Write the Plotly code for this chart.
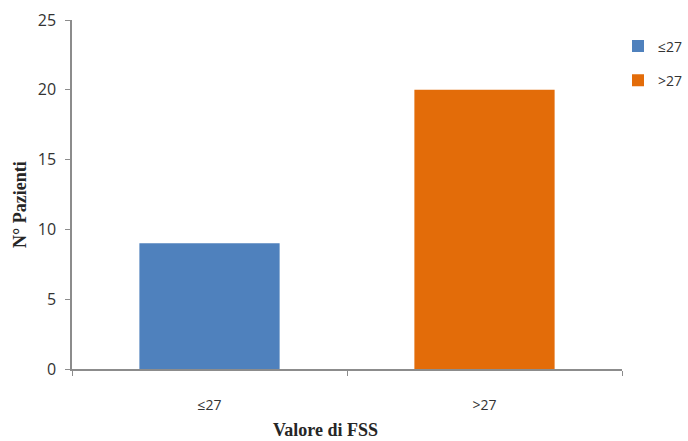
import plotly.graph_objects as go

categories = ["≤27", ">27"]
values = [9, 20]
colors = ["#4F81BD", "#E36C09"]
y_ticks = [0, 5, 10, 15, 20, 25]

fig = go.Figure()
for cat, val, col in zip(categories, values, colors):
    fig.add_trace(go.Bar(x=[cat], y=[val], name=cat, legendgroup=cat,
                         marker=dict(color=col, line=dict(width=0)), width=0.51))

W, H = 688, 441
ml, mr, mt, mb = 72, 0, 20, 72
plot_w = 622 - ml
dom_end = plot_w / (W - ml - mr)

fig.update_layout(
    width=W, height=H,
    margin=dict(l=ml, r=mr, t=mt, b=mb),
    paper_bgcolor="white", plot_bgcolor="white",
    barmode="overlay",
    showlegend=True,
    legend=dict(x=1.0, y=0.97, xanchor="right", yanchor="top",
                font=dict(family="Open Sans", size=14, color="#333333"),
                itemwidth=30, tracegroupgap=13, bgcolor="rgba(0,0,0,0)"),
    xaxis=dict(domain=[0, dom_end], categoryorder="array", categoryarray=categories,
               showline=True, linecolor="#8c8c8c", linewidth=1.5,
               ticks="outside", tickson="boundaries", ticklen=5, tickcolor="#8c8c8c",
               ticklabelstandoff=22,
               tickfont=dict(family="Open Sans", size=14, color="#333333"),
               automargin=False),
    yaxis=dict(range=[0, 25], tickvals=y_ticks, showgrid=False, zeroline=False,
               showline=True, linecolor="#8c8c8c", linewidth=1.5,
               ticks="outside", ticklen=5, tickcolor="#8c8c8c", ticklabelstandoff=6,
               tickfont=dict(family="Open Sans", size=16, color="#333333"),
               automargin=False),
    annotations=[
        dict(text="<b>Valore di FSS</b>", xref="paper", yref="paper",
             x=(325 - ml) / (W - ml - mr), y=-(430 - (H - mb)) / (H - mt - mb),
             xanchor="center", yanchor="middle", showarrow=False,
             font=dict(family="Liberation Serif", size=18, color="#262626")),
        dict(text="<b>N° Pazienti</b>", xref="paper", yref="paper",
             x=-(ml - 20) / (W - ml - mr), y=((H - mb) - 205) / (H - mt - mb),
             xanchor="center", yanchor="middle", showarrow=False, textangle=-90,
             font=dict(family="Liberation Serif", size=18, color="#262626")),
    ],
)

fig.write_html("out.html")
